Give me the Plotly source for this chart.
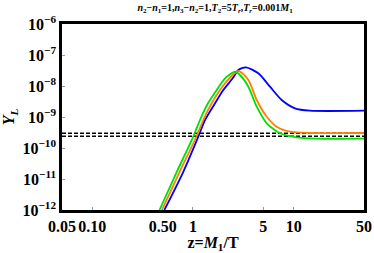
import plotly.graph_objects as go

# Data
z_green = [0.465, 0.689, 1.008, 1.174, 1.41, 1.72, 2.08, 2.62, 2.93, 3.55, 4.30, 5.40, 7.32, 10.7, 16.3, 50]
y_green = [1e-12, 1.68e-11, 2.32e-10, 8.0e-10, 2.77e-9, 7.43e-9, 1.77e-8, 2.89e-8, 2.26e-8, 9.5e-9, 2.15e-9, 6.27e-10, 2.98e-10, 2.21e-10, 2.02e-10, 2.0e-10]

z_orange = [0.492, 0.735, 1.084, 1.266, 1.535, 1.856, 2.30, 2.82, 3.55, 4.30, 5.40, 6.79, 9.20, 14.5, 50]
y_orange = [1e-12, 1.68e-11, 2.35e-10, 8.0e-10, 2.77e-9, 7.43e-9, 1.77e-8, 3.05e-8, 1.56e-8, 3.53e-9, 1.02e-9, 4.86e-10, 3.36e-10, 3.05e-10, 3.05e-10]

z_blue = [0.52, 0.80, 1.13, 1.317, 1.655, 2.00, 2.48, 2.82, 3.36, 4.46, 5.82, 7.61, 10.3, 14.5, 50]
y_blue = [1e-12, 1.68e-11, 2.32e-10, 8.0e-10, 2.77e-9, 7.43e-9, 1.77e-8, 3.28e-8, 4.0e-8, 2.57e-8, 9.5e-9, 3.53e-9, 1.91e-9, 1.6e-9, 1.6e-9]

z_ref = [0.05, 50]
y_ref1 = [3.0e-10, 3.0e-10]
y_ref2 = [2.4e-10, 2.4e-10]

x_tickvals = [0.05, 0.1, 0.5, 1, 5, 10, 50]
x_ticktext = ["0.05", "0.10", "0.50", "1", "5", "10", "50"]
y_tickvals = [1e-12, 1e-11, 1e-10, 1e-9, 1e-8, 1e-7, 1e-6]
y_exps = [-12, -11, -10, -9, -8, -7, -6]

serif = "Liberation Serif, Times New Roman, serif"

fig = go.Figure()
for yy in (y_ref1, y_ref2):
    fig.add_trace(go.Scatter(x=z_ref, y=yy, mode="lines",
                             line=dict(color="black", width=1.6, dash="4px,2px")))
fig.add_trace(go.Scatter(x=z_blue, y=y_blue, mode="lines",
                         line=dict(color="#0000ff", width=1.8, shape="spline", smoothing=0.7)))
fig.add_trace(go.Scatter(x=z_orange, y=y_orange, mode="lines",
                         line=dict(color="#ff7f00", width=1.8, shape="spline", smoothing=0.7)))
fig.add_trace(go.Scatter(x=z_green, y=y_green, mode="lines",
                         line=dict(color="#00e000", width=1.8, shape="spline", smoothing=0.7)))

fig.update_layout(
    width=374, height=253,
    margin=dict(l=62, r=10, t=24, b=43),
    paper_bgcolor="white", plot_bgcolor="white",
    showlegend=False,
    font=dict(family=serif, color="black"),
    title=dict(
        text="<b><i>n</i><sub>2</sub>−<i>n</i><sub>1</sub>=1,<i>n</i><sub>3</sub>−<i>n</i><sub>2</sub>=1,<i>T</i><sub>2</sub>=5<i>T<sub>r</sub></i>,<i>T<sub>r</sub></i>=0.001<i>M</i><sub>1</sub></b>",
        x=0.575, xanchor="center", y=0.985, yanchor="top",
        font=dict(size=10, family=serif, weight="bold")),
)
fig.update_xaxes(
    type="log", range=[-1.30103, 1.69897],
    tickvals=x_tickvals, ticktext=["<b>%s</b>" % t for t in x_ticktext],
    tickfont=dict(size=16, family=serif, weight="bold"),
    tickangle=0, automargin=False,
    showgrid=False, zeroline=False,
    showline=True, linecolor="black", linewidth=2.5, mirror=True,
    ticks="inside", ticklen=3, tickcolor="#999",
    title=dict(text="<b>z=<i>M</i><sub>1</sub>/T</b>", font=dict(size=16, family=serif, weight="bold"), standoff=2),
)
fig.update_yaxes(
    type="log", range=[-12, -6],
    tickvals=y_tickvals,
    ticktext=["<b>10<sup>−%d</sup></b>" % (-e) for e in y_exps],
    tickfont=dict(size=16, family=serif, weight="bold"),
    automargin=False,
    showgrid=False, zeroline=False,
    showline=True, linecolor="black", linewidth=2.5, mirror=True,
    ticks="inside", ticklen=3, tickcolor="#999",
    title=dict(text="<b><i>Y<sub>L</sub></i></b>", font=dict(size=16, family=serif, weight="bold"), standoff=4),
)

fig.write_html("out.html",
               config={"displayModeBar": False},
               post_script="document.body.style.margin='0';document.body.style.overflow='hidden';")
